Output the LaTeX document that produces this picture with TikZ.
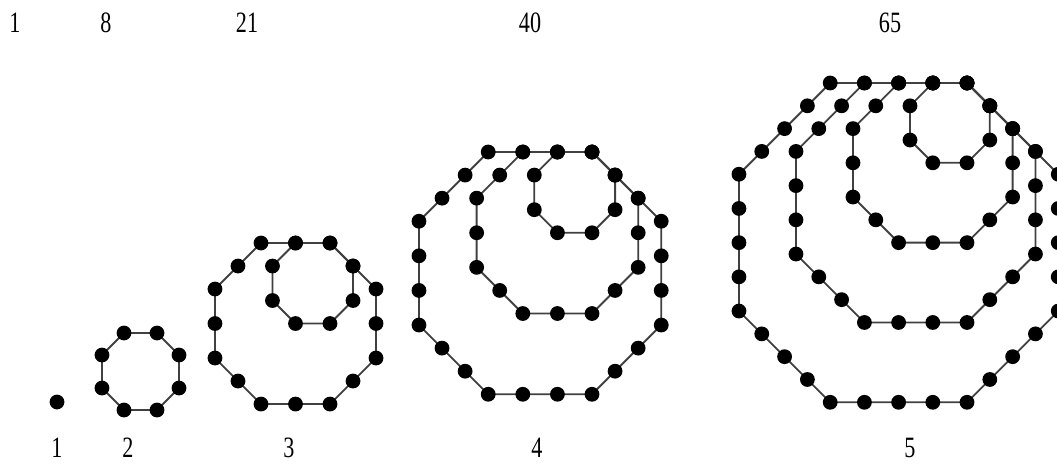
\documentclass[tikz,border=0pt]{standalone}
\usepackage{fontspec}
\setmainfont{Liberation Serif}
\usetikzlibrary{calc}

\tikzset{
  dot/.style={circle,fill=black,inner sep=0pt,minimum size=0.37cm},
  side/.style={line width=1.3pt,black!75},
  count/.style={font=\fontsize{21}{23}\selectfont,inner sep=0pt,anchor=base}
}

\begin{document}
\begin{tikzpicture}[x=0.025cm, y=0.025cm]
  \useasboundingbox (0,0) rectangle (1057,463);
  \clip (0,0) rectangle (1057,463);

  % the numbers on top and the figure index below
  \foreach \x/\n [count=\i] in {15/1, 106/8, 247/21, 530/40, 890/65}
    \node[count] (t\i) at (\x,431) {\scalebox{0.75}[1]{\n}};
  \foreach \x [count=\i] in {57, 128, 289, 537, 910}
    \node[count] (b\i) at (\x,6) {\scalebox{0.75}[1]{\i}};

  % figure 1: a single dot
  \node[dot] (f1) at (57,61) {};

  % figures 2..5: nested octagons hanging from one shared corner
  \foreach \f/\vx/\vy/\h in {2/157/130/33, 3/330/220/34.5,
                             4/592/311/34.6, 5/967/380/34.2} {
    \pgfmathtruncatemacro\m{\f-1}
    \foreach \s in {1,...,\m} {
      \coordinate (c\f-\s-0) at (\vx,\vy);
      \foreach \dx/\dy [count=\k] in {-1/0, -0.667/-0.667, 0/-1,
          0.667/-0.667, 1/0, 0.667/0.667, 0/1, -0.667/0.667} {
        \pgfmathtruncatemacro\j{\k-1}
        \coordinate (c\f-\s-\k) at ($(c\f-\s-\j)+\s*(\dx*\h,\dy*\h)$);
      }
      \draw[side] (c\f-\s-0) -- (c\f-\s-1) -- (c\f-\s-2) -- (c\f-\s-3)
        -- (c\f-\s-4) -- (c\f-\s-5) -- (c\f-\s-6) -- (c\f-\s-7) -- cycle;
    }
    \foreach \s in {1,...,\m} {
      \foreach \k in {1,...,8} {
        \pgfmathtruncatemacro\j{\k-1}
        \pgfmathtruncatemacro\e{\s-1}
        \foreach \t in {0,...,\e} {
          \pgfmathsetmacro\r{\t/\s}
          \node[dot] (d\f-\s-\k-\t) at ($(c\f-\s-\j)!\r!(c\f-\s-\k)$) {};
        }
      }
    }
  }
\end{tikzpicture}
\end{document}
